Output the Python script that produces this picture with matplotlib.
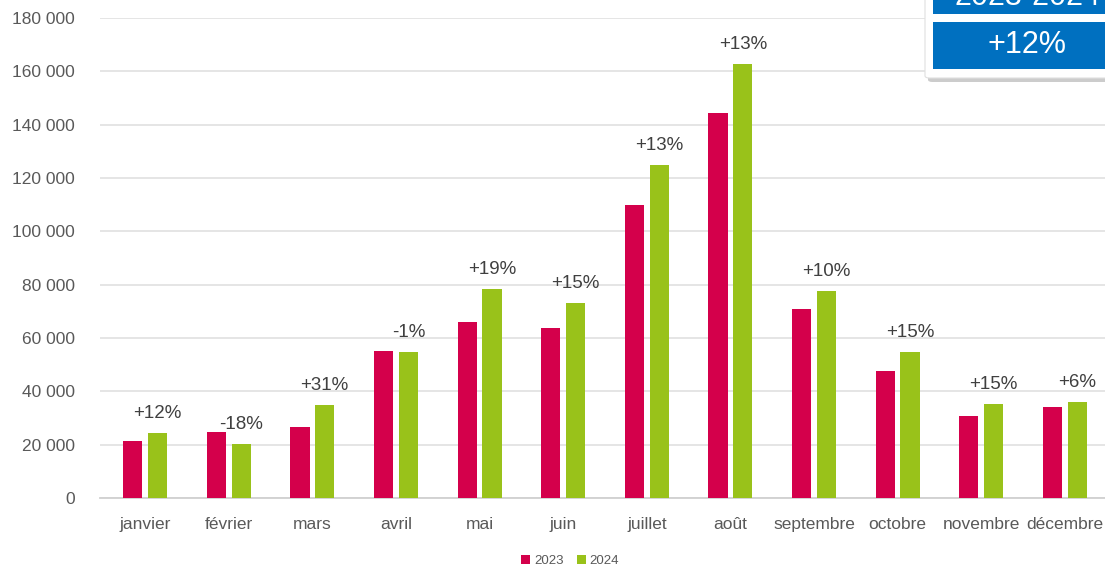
import matplotlib
matplotlib.use('Agg')

import matplotlib.pyplot as plt
import numpy as np
import matplotlib.ticker as ticker
from matplotlib.patches import Rectangle, FancyBboxPatch

plt.rcParams['font.family'] = ['Liberation Sans', 'DejaVu Sans']

# Data
months = ['janvier', 'février', 'mars', 'avril', 'mai', 'juin', 'juillet',
          'août', 'septembre', 'octobre', 'novembre', 'décembre']
values_2023 = [21500, 24800, 26600, 55100, 66000, 63700, 109900,
               144400, 70900, 47600, 30700, 34100]
values_2024 = [24400, 20300, 34900, 54800, 78400, 73100, 124900,
               162700, 77600, 54800, 35300, 36000]
changes = ['+12%', '-18%', '+31%', '-1%', '+19%', '+15%', '+13%',
           '+13%', '+10%', '+15%', '+15%', '+6%']
total_change = '+12%'
period = '2023-2024'

red = '#d4004b'
green = '#99c21a'

fig = plt.figure(figsize=(11.05, 5.68), dpi=100, facecolor='white')
ax = fig.add_axes([100 / 1105, 70 / 568, 1005 / 1105, 480 / 568])

x = np.arange(len(months))
w = 0.23
off = 0.148
ax.bar(x - off, values_2023, width=w, color=red, label='2023', zorder=3)
ax.bar(x + off, values_2024, width=w, color=green, label='2024', zorder=3)

for xi, v, lab in zip(x, values_2024, changes):
    ax.text(xi + off, v + 4000, lab, ha='center', va='bottom',
            fontsize=13.5, color='#404040')

ax.set_xlim(-0.54, 11.48)
ax.set_ylim(0, 180000)
ax.yaxis.set_major_locator(ticker.MultipleLocator(20000))
ax.yaxis.set_major_formatter(ticker.FuncFormatter(
    lambda v, _: f'{int(v):,}'.replace(',', ' ')))
ax.set_xticks(x)
ax.set_xticklabels(months)
ax.tick_params(axis='both', length=0, colors='#595959', labelsize=12.5)
ax.tick_params(axis='y', pad=18)
ax.tick_params(axis='x', pad=14)

ax.yaxis.grid(True, color='#e3e3e3', linewidth=1.3, zorder=0)
ax.xaxis.grid(False)
for s in ['top', 'right', 'left']:
    ax.spines[s].set_visible(False)
ax.spines['bottom'].set_color('#d0d0d0')
ax.spines['bottom'].set_linewidth(1.3)

leg = fig.legend(loc='center', bbox_to_anchor=(570 / 1105, 1 - 561 / 568),
                 ncol=2, frameon=False, fontsize=9.5, labelcolor='#595959',
                 handlelength=0.7, handleheight=0.7, handletextpad=0.3,
                 columnspacing=1.0)

# Top-right summary box (partly cut off by the image edge)
shadow = FancyBboxPatch((928 / 1105, 1 - 82 / 568), 0.2, 0.2,
                        boxstyle='round,pad=0,rounding_size=0.004',
                        transform=fig.transFigure, facecolor='#cccccc',
                        edgecolor='none', zorder=5)
box = FancyBboxPatch((925 / 1105, 1 - 78 / 568), 0.2, 0.2,
                     boxstyle='round,pad=0,rounding_size=0.004',
                     transform=fig.transFigure, facecolor='white',
                     edgecolor='#e0e0e0', linewidth=0.8, zorder=6)
fig.patches.extend([shadow, box])
fig.patches.append(Rectangle((933 / 1105, 1 - 14 / 568), 0.2, 0.1,
                             transform=fig.transFigure, facecolor='#0070c0',
                             edgecolor='none', zorder=7))
fig.patches.append(Rectangle((933 / 1105, 1 - 69 / 568), 0.2, 47 / 568,
                             transform=fig.transFigure, facecolor='#0070c0',
                             edgecolor='none', zorder=7))
fig.text(1027 / 1105, 1 - 45 / 568, total_change, ha='center', va='center',
         fontsize=22, color='white', zorder=8)
# header text sits mostly above the image edge, as in the reference
fig.text(1027 / 1105, 1 - 5 / 568, period, ha='center', va='baseline',
         fontsize=22, color='white', zorder=8)

plt.savefig('out.png', dpi=100, facecolor=fig.get_facecolor())
plt.close()
